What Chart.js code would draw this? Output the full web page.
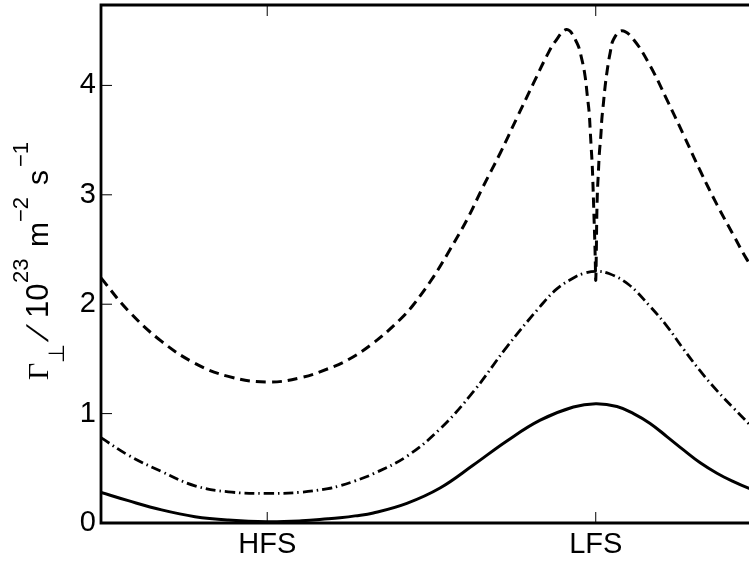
<!DOCTYPE html>
<html>
<head>
<meta charset="utf-8">
<script src="https://cdn.jsdelivr.net/npm/chart.js@4/dist/chart.umd.min.js"></script>
<style>
  html, body { margin: 0; padding: 0; background: #fff; overflow: hidden; }
  #wrap { position: relative; width: 780px; height: 564px; }
</style>
</head>
<body>
<div id="wrap"><canvas id="chart"></canvas></div>
<script>
// poloidal position: HFS = 1, LFS = 3, one full turn = 4
var xTickValues = [1, 3];
var xTickLabels = ["HFS", "LFS"];
var yTickValues = [0, 1, 2, 3, 4];

// solid curve
var solidX = [-0.012, 0.154, 0.357, 0.560, 0.763, 1.0, 1.21, 1.37, 1.443, 1.535, 1.646, 1.85, 2.052, 2.255, 2.459, 2.662, 2.864, 3.0, 3.129, 3.23, 3.331, 3.433, 3.534, 3.636, 3.738, 3.839, 3.93, 4.0];
var solidY = [0.28, 0.204, 0.12, 0.058, 0.027, 0.012, 0.02, 0.038, 0.048, 0.065, 0.092, 0.18, 0.32, 0.53, 0.75, 0.94, 1.06, 1.09, 1.065, 1.0, 0.91, 0.79, 0.668, 0.55, 0.455, 0.378, 0.318, 0.28];

// dash-dot curve
var dashDotX = [-0.012, 0.154, 0.357, 0.560, 0.763, 1.0, 1.21, 1.37, 1.443, 1.535, 1.646, 1.85, 2.052, 2.255, 2.459, 2.662, 2.763, 2.864, 2.925, 3.0, 3.08, 3.2, 3.331, 3.433, 3.534, 3.636, 3.738, 3.839, 3.93, 4.0];
var dashDotY = [0.78, 0.62, 0.47, 0.34, 0.285, 0.27, 0.282, 0.315, 0.34, 0.385, 0.45, 0.61, 0.86, 1.2, 1.61, 1.98, 2.14, 2.24, 2.28, 2.30, 2.28, 2.18, 1.98, 1.80, 1.59, 1.39, 1.21, 1.05, 0.91, 0.79];

// dashed curve
var dashedX = [-0.012, 0.154, 0.357, 0.560, 0.763, 1.0, 1.21, 1.37, 1.49, 1.646, 1.809, 1.89, 2.012, 2.113, 2.215, 2.316, 2.418, 2.519, 2.621, 2.702, 2.753, 2.824, 2.885, 2.915, 2.935, 2.949, 2.960, 2.966, 2.972, 2.978, 2.982, 2.986, 2.990, 2.994, 2.997, 3.0, 3.004, 3.006, 3.010, 3.016, 3.022, 3.031, 3.037, 3.047, 3.057, 3.071, 3.088, 3.108, 3.159, 3.23, 3.331, 3.433, 3.534, 3.636, 3.738, 3.839, 3.92, 4.0];
var dashedY = [2.24, 1.94, 1.66, 1.46, 1.34, 1.288, 1.33, 1.41, 1.49, 1.645, 1.86, 1.995, 2.25, 2.50, 2.77, 3.08, 3.38, 3.70, 4.02, 4.27, 4.40, 4.51, 4.39, 4.24, 4.085, 3.90, 3.75, 3.6, 3.44, 3.29, 3.14, 2.96, 2.77, 2.59, 2.41, 2.22, 2.53, 2.77, 3.02, 3.2, 3.38, 3.54, 3.69, 3.84, 3.99, 4.15, 4.3, 4.42, 4.5, 4.42, 4.18, 3.87, 3.55, 3.22, 2.91, 2.63, 2.41, 2.23];

function toPoints(xs, ys) {
  return xs.map(function (x, i) {
    return { x: x, y: ys[i] };
  });
}

var tickFont = { family: "'Liberation Sans', Arial, Helvetica, sans-serif", size: 29 };

// box + inward ticks, matlab style
var boxPlugin = {
  id: "box",
  afterDatasetsDraw: function (chart) {
    var ctx = chart.ctx;
    var a = chart.chartArea;
    var sx = chart.scales.x;
    var sy = chart.scales.y;
    var len = 11;
    ctx.save();
    ctx.strokeStyle = "#000";
    ctx.lineWidth = 1;
    sx.ticks.forEach(function (t) {
      var p = sx.getPixelForValue(t.value);
      ctx.beginPath();
      ctx.moveTo(p, a.bottom);
      ctx.lineTo(p, a.bottom - len);
      ctx.moveTo(p, a.top);
      ctx.lineTo(p, a.top + len);
      ctx.stroke();
    });
    sy.ticks.forEach(function (t) {
      var p = sy.getPixelForValue(t.value);
      ctx.beginPath();
      ctx.moveTo(a.left, p);
      ctx.lineTo(a.left + len, p);
      ctx.moveTo(a.right, p);
      ctx.lineTo(a.right - len, p);
      ctx.stroke();
    });
    ctx.lineWidth = 2.8;
    ctx.beginPath();
    ctx.rect(a.left, a.top, a.right - a.left, a.bottom - a.top);
    ctx.stroke();
    ctx.restore();
  },
};

// y label with sub/superscripts, drawn rotated
var yTitlePlugin = {
  id: "yTitle",
  afterDraw: function (chart) {
    var ctx = chart.ctx;
    var sans = "'Liberation Sans', Arial, sans-serif";
    var runs = [
      { t: "\u0393", f: "30px 'Liberation Serif', 'Times New Roman', serif", x: 0, dy: 0 },
      { t: "\u22A5", f: "22px 'DejaVu Sans', sans-serif", x: 17, dy: 16 },
      { t: "/", f: "30px " + sans, x: 38, dy: 0, skew: true },
      { t: "10", f: "31px " + sans, x: 62, dy: 0 },
      { t: "23", f: "22px " + sans, x: 97, dy: -20 },
      { t: "m", f: "30px " + sans, x: 133, dy: 0 },
      { t: "\u22122", f: "22px " + sans, x: 158, dy: -20 },
      { t: "s", f: "30px " + sans, x: 195, dy: 0 },
      { t: "\u22121", f: "22px " + sans, x: 213, dy: -20 },
    ];
    ctx.save();
    ctx.translate(48, 380);
    ctx.rotate(-Math.PI / 2);
    ctx.fillStyle = "#000";
    ctx.textBaseline = "alphabetic";
    ctx.textAlign = "left";
    runs.forEach(function (r) {
      ctx.save();
      ctx.font = r.f;
      ctx.translate(r.x, r.dy);
      if (r.skew) ctx.transform(1, 0, -0.45, 1, 0, 0);
      ctx.fillText(r.t, 0, 0);
      ctx.restore();
    });
    ctx.restore();
  },
};

var datasets = [
  {
    label: "solid",
    data: toPoints(solidX, solidY),
    borderColor: "#000",
    borderWidth: 3,
  },
  {
    label: "dashdot",
    data: toPoints(dashDotX, dashDotY),
    borderColor: "#000",
    borderWidth: 2.8,
    borderDash: [10, 4, 1.5, 4],
  },
  {
    label: "dashed",
    data: toPoints(dashedX, dashedY),
    borderColor: "#000",
    borderWidth: 3,
    borderDash: [10, 6],
  },
];

new Chart(document.getElementById("chart"), {
  type: "line",
  data: { datasets: datasets },
  options: {
    responsive: true,
    maintainAspectRatio: false,
    animation: false,
    devicePixelRatio: 1,
    layout: { padding: { top: 5, right: 20, left: 0, bottom: 0 } },
    elements: {
      point: { radius: 0 },
      line: { tension: 0.4, fill: false, borderCapStyle: "butt" },
    },
    plugins: {
      legend: { display: false },
      tooltip: { enabled: false },
    },
    scales: {
      x: {
        type: "linear",
        min: -0.012,
        max: 4,
        grid: { display: false, drawTicks: false },
        border: { display: false },
        afterBuildTicks: function (scale) {
          scale.ticks = xTickValues.map(function (v) {
            return { value: v };
          });
        },
        afterFit: function (scale) {
          scale.height = 41;
          scale.paddingLeft = 0;
          scale.paddingRight = 0;
        },
        ticks: {
          color: "#000",
          font: tickFont,
          padding: 5,
          maxRotation: 0,
          autoSkip: false,
          callback: function (value) {
            var i = xTickValues.indexOf(value);
            return i >= 0 ? xTickLabels[i] : "";
          },
        },
      },
      y: {
        type: "linear",
        min: 0,
        max: 4.735,
        grid: { display: false, drawTicks: false },
        border: { display: false },
        afterBuildTicks: function (scale) {
          scale.ticks = yTickValues.map(function (v) {
            return { value: v };
          });
        },
        afterFit: function (scale) {
          scale.width = 101;
          scale.paddingTop = 0;
          scale.paddingBottom = 0;
        },
        ticks: {
          color: "#000",
          font: tickFont,
          padding: 5,
          autoSkip: false,
        },
      },
    },
  },
  plugins: [boxPlugin, yTitlePlugin],
});
</script>
</body>
</html>
